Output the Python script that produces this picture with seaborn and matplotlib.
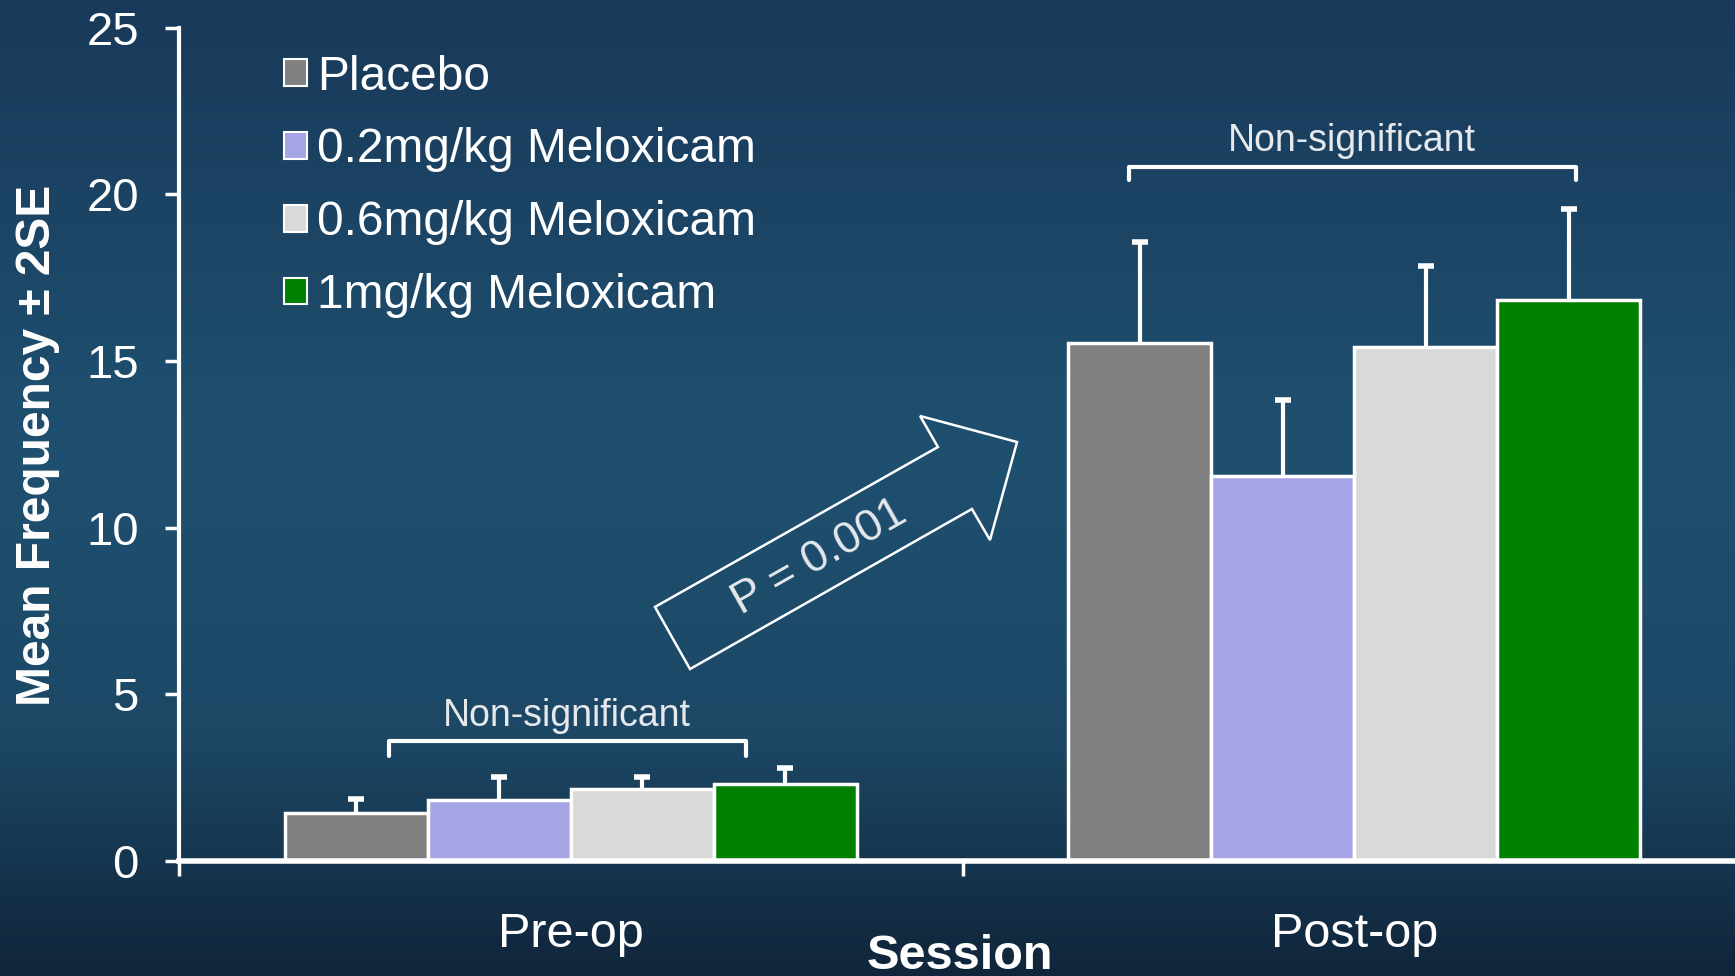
import numpy as np
import pandas as pd
import matplotlib.pyplot as plt
import matplotlib.patches as mpatches
from matplotlib.colors import LinearSegmentedColormap
import seaborn as sns

# values
sessions = ["Pre-op", "Post-op"]
groups = ["Placebo", "0.2mg/kg Meloxicam", "0.6mg/kg Meloxicam", "1mg/kg Meloxicam"]
means_pre = [1.43, 1.83, 2.15, 2.30]
means_post = [15.53, 11.55, 15.41, 16.83]
se2_pre = [0.42, 0.68, 0.36, 0.49]
se2_post = [3.03, 2.29, 2.45, 2.74]
colors = ["#808080", "#a5a5e6", "#d9d9d9", "#008000"]

data = pd.DataFrame({
    "Session": np.repeat(sessions, len(groups)),
    "Group": groups * len(sessions),
    "Mean": means_pre + means_post,
    "Err": se2_pre + se2_post,
})

sns.set_style("white")
plt.rcParams['font.family'] = ['Liberation Sans', 'DejaVu Sans']

fig = plt.figure(figsize=(17.35, 9.76), dpi=100)

# gradient background
bg = fig.add_axes([0, 0, 1, 1], zorder=0)
cmap = LinearSegmentedColormap.from_list(
    "bg", [(0.0, "#19395a"), (0.45, "#1f5070"), (0.75, "#1c4866"), (1.0, "#10253a")])
grad = np.linspace(0, 1, 256).reshape(-1, 1)
bg.imshow(grad, aspect="auto", cmap=cmap, extent=[0, 1, 0, 1], origin="upper")
bg.axis("off")

ax = fig.add_axes([0.1032, 0.1178, 0.9032, 0.8538], zorder=1)
ax.patch.set_alpha(0)

sns.barplot(data=data, x="Session", y="Mean", hue="Group", hue_order=groups,
            palette=colors, width=0.73, gap=0, edgecolor="white", linewidth=2.5,
            saturation=1, errorbar=None, ax=ax)

# upward error bars (mean + 2SE) placed on the drawn bars
for cont, g in zip(ax.containers, groups):
    sub = data[data["Group"] == g]
    xs = [b.get_x() + b.get_width() / 2 for b in cont]
    ys = [b.get_height() for b in cont]
    errs = sub["Err"].values
    eb = ax.errorbar(xs, ys, yerr=[np.zeros(len(errs)), errs], fmt="none",
                     ecolor="white", elinewidth=3, capsize=5.5, capthick=4, zorder=0)
    eb[1][0].set_visible(False)  # no cap at the bar top

ax.set_ylim(0, 25)
ax.set_xlim(-0.5, 1.5)
ax.set_yticks([0, 5, 10, 15, 20, 25])
ax.set_xticks([0, 1])
ax.set_xticklabels(sessions)
ax.set_xticks([-0.5, 0.5, 1.5], minor=True)
ax.set_xlabel("")
ax.set_ylabel("")

for s in ["top", "right"]:
    ax.spines[s].set_visible(False)
ax.spines["left"].set_color("white")
ax.spines["left"].set_linewidth(3)
ax.spines["bottom"].set_color("white")
ax.spines["bottom"].set_linewidth(4)

ax.tick_params(axis="y", colors="white", labelsize=34, length=10, width=2.5,
               direction="out", pad=19, left=True)
ax.tick_params(axis="x", which="major", colors="white", labelsize=35, length=0, pad=37)
ax.tick_params(axis="x", which="minor", colors="white", length=11, width=2.5,
               direction="out", bottom=True)

# legend
handles, labels = ax.get_legend_handles_labels()
leg = ax.legend(handles, labels, loc="upper left", bbox_to_anchor=(0.1635, 0.944),
                bbox_transform=fig.transFigure, frameon=False, fontsize=34.5,
                handlelength=0.48, handleheight=0.48, handletextpad=0.22,
                labelspacing=0.58, borderpad=0, borderaxespad=0)
for t in leg.get_texts():
    t.set_color("white")
for h in leg.legend_handles:
    h.set_edgecolor("white")
    h.set_linewidth(1.5)

# "Non-significant" brackets
brackets = [(-0.232, 0.223, 3.59, 3.15), (0.712, 1.2825, 20.83, 20.43)]
for x0, x1, yt, yb in brackets:
    ax.plot([x0, x0, x1, x1], [yb, yt, yt, yb], color="white", lw=3,
            solid_joinstyle="round", clip_on=False, zorder=3)
    ax.text((x0 + x1) / 2, yt + 0.22, "Non-significant", color="#e6e9ec",
            fontsize=27, ha="center", va="bottom")

# hollow arrow with P value
arrow_pts = [(0.3775, 0.3781), (0.5406, 0.5420), (0.5303, 0.5738), (0.5862, 0.5471),
             (0.5706, 0.4467), (0.5602, 0.4785), (0.3977, 0.3145)]
arrow = mpatches.Polygon(arrow_pts, closed=True, fill=False, edgecolor="white",
                         linewidth=1.8, transform=fig.transFigure, zorder=3)
fig.add_artist(arrow)
fig.text(0.4725, 0.4293, "P = 0.001", color="#e6e9ec", fontsize=32.5,
         rotation=29.5, ha="center", va="center", rotation_mode="anchor")

fig.text(0.0215, 0.544, "Mean Frequency \u00b1 2SE", color="white", fontsize=34.5,
         fontweight="bold", rotation=90, ha="center", va="center")
fig.text(0.553, 0.02, "Session", color="white", fontsize=35, fontweight="bold",
         ha="center", va="center")

fig.savefig("out.png", dpi=100)
